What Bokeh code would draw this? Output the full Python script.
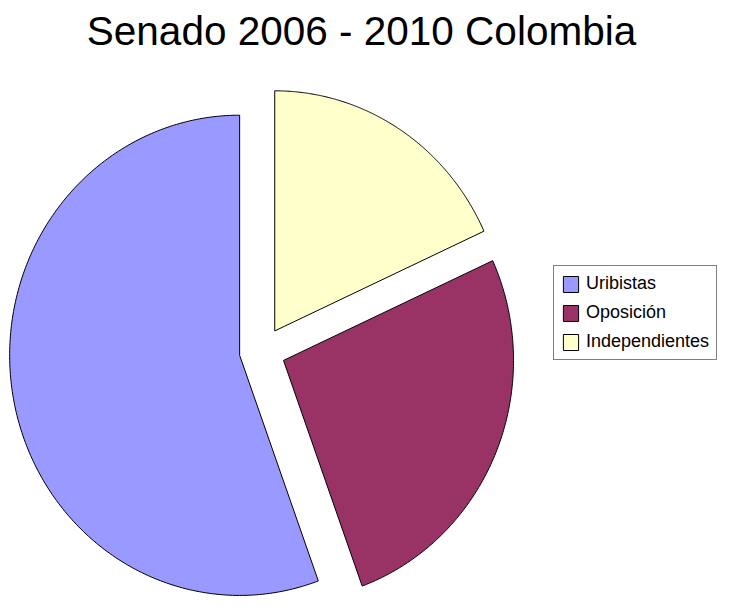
import numpy as np
from bokeh.plotting import figure
from bokeh.models import Range1d, Legend, LegendItem, ColumnDataSource
from bokeh.embed import file_html
from bokeh.resources import INLINE

# ---- data ----
labels = ["Uribistas", "Oposición", "Independientes"]
seats = [55, 26, 18]
colors = ["#9999FF", "#993366", "#FFFFCC"]
explode = 0.1  # fraction of radius

# ---- layout (pixels) ----
W, H = 722, 606
T = 56            # approx. title panel height
cx_px, cy_px = 261.8, 349.7   # pie centre within plot
rx_px, ry_px = 230.0, 241.0   # pie radii

x_range = Range1d(-cx_px / rx_px, (W - cx_px) / rx_px)
y_range = Range1d(-(H - cy_px) / ry_px, (cy_px - T) / ry_px)

p = figure(width=W, height=H, output_backend="svg", toolbar_location=None,
           x_range=x_range, y_range=y_range, min_border=0,
           title="Senado 2006 - 2010 Colombia")
p.title.text_font = "Liberation Sans"
p.title.text_font_size = "40.5px"
p.title.text_font_style = "normal"
p.title.align = "center"
p.title.text_color = "black"
p.axis.visible = False
p.grid.visible = False
p.outline_line_color = None

# ---- slices from data ----
vals = np.array(seats, dtype=float)
fracs = vals / vals.sum()
start = np.pi / 2
xs, ys = [], []
for f in fracs:
    end = start + 2 * np.pi * f
    mid = (start + end) / 2
    ox, oy = explode * np.cos(mid), explode * np.sin(mid)
    t = np.linspace(start, end, 240)
    xs.append(list(np.concatenate([[ox], ox + np.cos(t)])))
    ys.append(list(np.concatenate([[oy], oy + np.sin(t)])))
    start = end

src = ColumnDataSource(dict(xs=xs, ys=ys, color=colors, label=labels))
r = p.patches("xs", "ys", source=src, fill_color="color", line_color="black",
              line_width=1)

items = [LegendItem(label=labels[i], renderers=[r], index=i) for i in range(len(labels))]
legend = Legend(items=items, location=(553, H - 360), orientation="vertical")
legend.label_text_font = "Liberation Sans"
legend.label_text_font_size = "18px"
legend.label_text_color = "black"
legend.glyph_width = 19
legend.glyph_height = 20
legend.label_height = 20
legend.spacing = 8
legend.padding = 7
legend.margin = 0
legend.label_standoff = 6
legend.border_line_color = "black"
legend.border_line_width = 1
legend.background_fill_alpha = 1
p.add_layout(legend, "center")

open("out.html", "w").write(file_html(p, INLINE))
